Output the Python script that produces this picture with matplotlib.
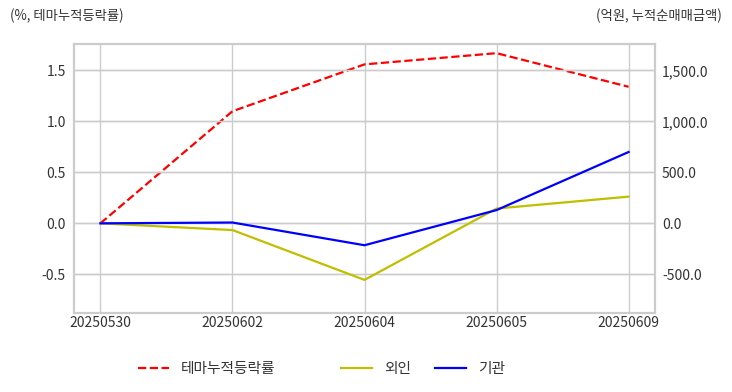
import matplotlib
matplotlib.use("Agg")
import matplotlib.pyplot as plt
from matplotlib.ticker import FuncFormatter

plt.rcParams['font.family'] = ['Noto Sans CJK KR', 'DejaVu Sans']
plt.rcParams['axes.unicode_minus'] = False

dates = ['20250530', '20250602', '20250604', '20250605', '20250609']
theme_rate = [0.0, 1.10, 1.56, 1.67, 1.34]      # %
foreign = [0.0, -66.0, -555.0, 145.0, 262.0]     # 억원
institution = [0.0, 8.0, -215.0, 130.0, 700.0]  # 억원

grid_c = '#cccccc'
text_c = '#333333'

fig = plt.figure(figsize=(7.32, 3.92), dpi=100)
ax = fig.add_axes([74 / 732, 1 - 313 / 392, (655 - 74) / 732, (313 - 44) / 392])
ax2 = ax.twinx()

x = list(range(len(dates)))
l1, = ax.plot(x, theme_rate, 'r--', lw=1.6, label='테마누적등락률')
l2, = ax2.plot(x, foreign, color='y', lw=1.6, label='외인')
l3, = ax2.plot(x, institution, color='b', lw=1.6, label='기관')

ax.set_xlim(-0.2, 4.2)
ax.set_ylim(-0.88, 1.76)
ax2.set_ylim(-880, 1760)
ax.set_yticks([-0.5, 0.0, 0.5, 1.0, 1.5])
ax2.set_yticks([-500, 0, 500, 1000, 1500])
ax.set_xticks(x)
ax.set_xticklabels(dates)
ax.yaxis.set_major_formatter(FuncFormatter(lambda v, p: f'{v:.1f}'))
ax2.yaxis.set_major_formatter(FuncFormatter(lambda v, p: f'{v:,.1f}'))

for a in (ax, ax2):
    a.grid(True, color=grid_c, lw=1)
    a.set_axisbelow(True)
    a.tick_params(length=0, labelsize=10, colors=text_c)
    for s in a.spines.values():
        s.set_color(grid_c)
        s.set_linewidth(1.5)
ax2.grid(False, axis='x')
ax.tick_params(axis='y', pad=6)
ax2.tick_params(axis='y', pad=5)
ax.tick_params(axis='x', pad=2)

fig.text(10 / 732, 1 - 16 / 392, '(%, 테마누적등락률)', fontsize=9.6, color=text_c,
         ha='left', va='center')
fig.text(722 / 732, 1 - 16 / 392, '(억원, 누적순매매금액)', fontsize=9.6, color=text_c,
         ha='right', va='center')

# legend entries placed one by one (uneven gaps in the reference)
for handle, xpos in [(l1, 138), (l2, 341), (l3, 435)]:
    lg = fig.legend(handles=[handle], loc='center left',
                    bbox_to_anchor=(xpos / 732, 1 - 369 / 392),
                    frameon=False, fontsize=10.6, handlelength=2.1,
                    handletextpad=0.8, borderpad=0, borderaxespad=0,
                    labelcolor=text_c)

fig.savefig('out.png', dpi=100)
